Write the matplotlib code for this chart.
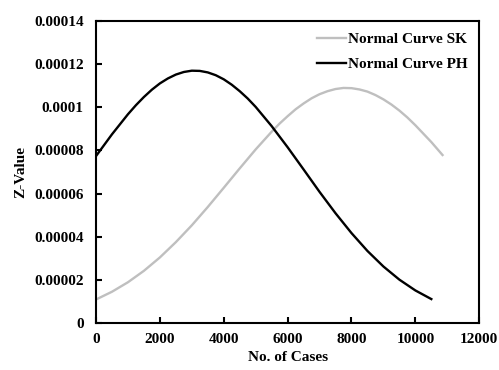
import matplotlib
matplotlib.use("Agg")
import matplotlib.pyplot as plt

# values (x in cases, y in units of 1e-6)
sk_x = [0, 500, 1000, 1500, 2000, 2500, 3000, 3500, 4000, 4500, 5000, 5500, 5750,
        6000, 6250, 6500, 6750, 7000, 7250, 7500, 7750, 8000, 8250, 8500, 8750,
        9000, 9250, 9500, 9750, 10000, 10500, 10850]
sk_y = [10.9, 14.5, 18.9, 24.2, 30.4, 37.5, 45.3, 53.8, 62.7, 71.7, 80.5, 88.7, 92.5,
        95.9, 99.1, 101.8, 104.2, 106.1, 107.5, 108.5, 109.0, 108.9, 108.3, 107.3, 105.7,
        103.7, 101.3, 98.5, 95.3, 91.7, 83.9, 77.9]

ph_x = [0, 500, 1000, 1250, 1500, 1750, 2000, 2250, 2500, 2750, 3000, 3250, 3500,
        3750, 4000, 4250, 4500, 4750, 5000, 5500, 6000, 6500, 7000, 7500, 8000,
        8500, 9000, 9500, 10000, 10500]
ph_y = [77.4, 87.5, 96.8, 101.0, 104.8, 108.2, 111.1, 113.4, 115.2, 116.4, 117.0, 116.9, 116.2,
        114.9, 113.0, 110.5, 107.5, 104.1, 100.2, 91.3, 81.5, 71.2, 60.8, 50.9, 41.7,
        33.4, 26.2, 20.1, 15.1, 11.1]

y_ticks = [0, 0.00002, 0.00004, 0.00006, 0.00008, 0.0001, 0.00012, 0.00014]
y_labels = ["0", "0.00002", "0.00004", "0.00006", "0.00008", "0.0001", "0.00012", "0.00014"]
x_ticks = [0, 2000, 4000, 6000, 8000, 10000, 12000]

plt.rcParams['font.family'] = ['Liberation Serif', 'DejaVu Serif']
plt.rcParams['font.weight'] = 'bold'

fig = plt.figure(figsize=(4.99, 3.70), dpi=100)
ax = fig.add_axes([0.1924, 0.127, 0.768, 0.816])

ax.plot(sk_x, [v * 1e-6 for v in sk_y], color='#bfbfbf', lw=1.7, label='Normal Curve SK')
ax.plot(ph_x, [v * 1e-6 for v in ph_y], color='black', lw=1.7, label='Normal Curve PH')

ax.set_xlim(0, 12000)
ax.set_ylim(0, 0.00014)
ax.set_xticks(x_ticks)
ax.set_xticklabels([str(t) for t in x_ticks])
ax.set_yticks(y_ticks)
ax.set_yticklabels(y_labels)
ax.tick_params(direction='in', length=4, width=1.5, labelsize=11)
ax.tick_params(axis='x', pad=7.5)
ax.tick_params(axis='y', pad=9)
for s in ax.spines.values():
    s.set_linewidth(1.5)

ax.set_xlabel('No. of Cases', fontsize=11, fontweight='bold', labelpad=3.5)
ax.set_ylabel('Z-Value', fontsize=11, fontweight='bold', labelpad=5)

leg = ax.legend(loc='upper right', frameon=False, fontsize=11, handlelength=1.9,
                handletextpad=0.15, borderaxespad=0.35, labelspacing=0.75)

fig.savefig('out.png', dpi=100)
